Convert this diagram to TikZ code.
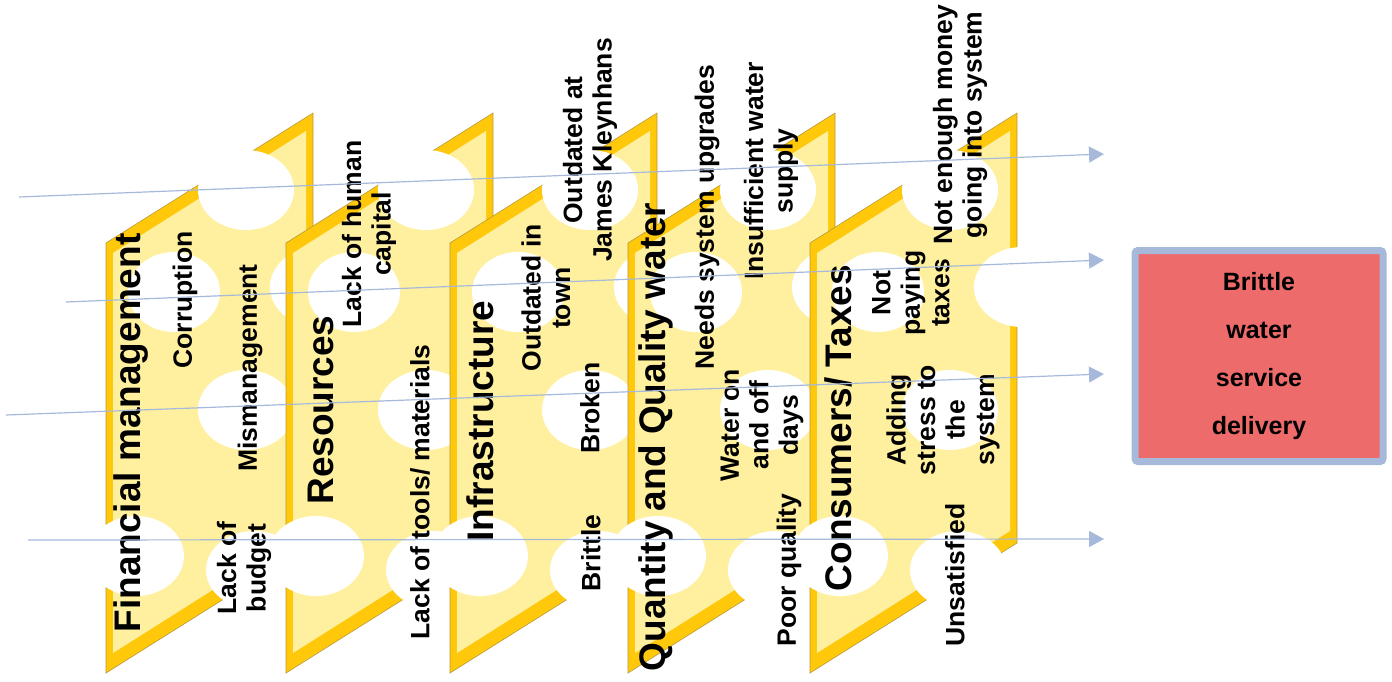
\documentclass[tikz,border=0pt]{standalone}
\usepackage{fontspec}
\setmainfont{Liberation Sans}
\usetikzlibrary{arrows.meta}
\definecolor{cheesegold}{HTML}{FFC80A}
\definecolor{cheesefill}{HTML}{FFF0A0}
\definecolor{cheeseedge}{HTML}{B89A3A}
\definecolor{rayblue}{HTML}{A7B9DA}
\definecolor{boxred}{HTML}{EE6B6B}

\begin{document}
\begin{tikzpicture}[x=1pt,y=-1pt,
   slice/.style={fill=cheesegold,draw=cheeseedge,line width=0.6pt},
   core/.style={fill=cheesefill},
   hole/.style={fill=white},
   heading/.style={rotate=90,font=\fontsize{37}{40}\selectfont\bfseries},
   cause/.style={rotate=90,align=center,font=\fontsize{26.5}{29.5}\selectfont\bfseries},
   ray/.style={draw=rayblue,line width=1.2pt,-{Triangle[length=15pt,width=16pt]}},
   outcome/.style={fill=boxred,draw=rayblue,line width=7pt,rounded corners=3pt,
      minimum width=248pt,minimum height=211pt,align=center,
      font=\fontsize{25}{48}\selectfont\bfseries}]

\useasboundingbox (0,0) rectangle (1392,681);

\foreach \sx in {106,286,450,628,810}{
  \begin{scope}[xshift=\sx pt]
    \path[slice] (0,243) -- (207,113) -- (207,543) -- (0,673) -- cycle;
    \path[core] (7,253) -- (200,131) -- (200,531) -- (7,653) -- cycle;
    \path[hole] (140,190) ellipse [x radius=48pt,y radius=40pt]
                (68,292) ellipse [x radius=46pt,y radius=40pt]
                (212,287) ellipse [x radius=48pt,y radius=40pt]
                (140,410) ellipse [x radius=48pt,y radius=40pt]
                (30,556) ellipse [x radius=48pt,y radius=40pt]
                (148,570) ellipse [x radius=48pt,y radius=39pt];
  \end{scope}
}

\node[heading] (fin) at (131,433) {Financial management};
\node[heading] (res) at (321,410) {Resources};
\node[heading] (inf) at (480,421) {Infrastructure};
\node[heading] (qua) at (656,437) {Quantity and Quality water};
\node[heading] (con) at (838,428) {Consumers/ Taxes};

\node[cause] (corr) at (185,300) {Corruption};
\node[cause] (mism) at (250,368) {Mismanagement};
\node[cause] (budg) at (244,568) {Lack of\\budget};
\node[cause] (huma) at (369,234) {Lack of human\\capital};
\node[cause] (tool) at (420,492) {Lack of tools/ materials};
\node[cause] (town) at (546,298) {Outdated in\\town};
\node[cause] (kley) at (590,150) {Outdated at\\James Kleynhans};
\node[cause] (brok) at (590,408) {Broken};
\node[cause] (brit) at (591,553) {Brittle};
\node[cause] (upgr) at (707,217) {Needs system upgrades};
\node[cause] (insu) at (771,171) {Insufficient water\\supply};
\node[cause] (onof) at (762,425) {Water on\\and off\\days};
\node[cause] (poor) at (789,570) {Poor quality};
\node[cause] (taxs) at (911,293) {Not\\paying\\taxes};
\node[cause] (mone) at (960,125) {Not enough money\\going into system};
\node[cause] (strs) at (943,420) {Adding\\stress to\\the\\system};
\node[cause] (unsa) at (955,575) {Unsatisfied};

\node[outcome] (result) at (1259,356) {Brittle\\water\\service\\delivery};

\coordinate (a1) at (19,197);  \coordinate (b1) at (1104,154);
\coordinate (a2) at (66,302);  \coordinate (b2) at (1104,260);
\coordinate (a3) at (6,415);   \coordinate (b3) at (1104,374);
\coordinate (a4) at (28,540);  \coordinate (b4) at (1104,539);
\draw[ray] (a1) -- (b1);
\draw[ray] (a2) -- (b2);
\draw[ray] (a3) -- (b3);
\draw[ray] (a4) -- (b4);

\end{tikzpicture}
\end{document}
